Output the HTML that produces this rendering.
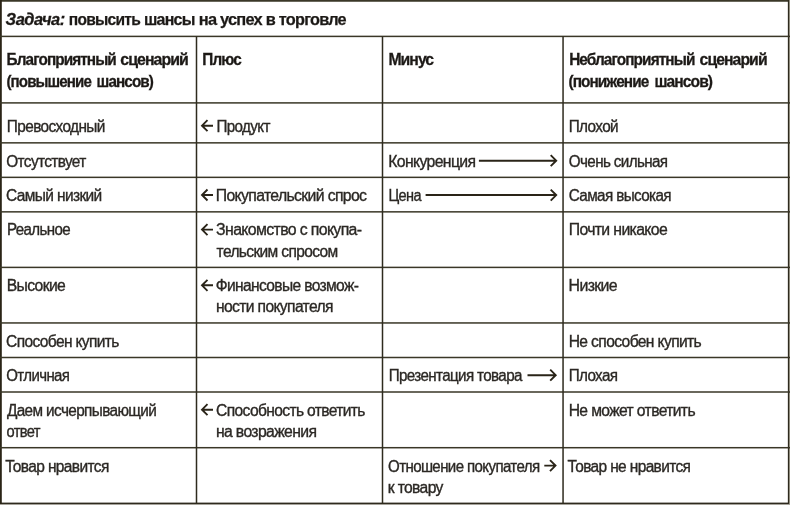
<!DOCTYPE html>
<html lang="ru"><head><meta charset="utf-8"><title>Задача: повысить шансы на успех в торговле</title>
<style>
html,body{margin:0;padding:0;background:#fff;}
body{width:790px;height:505px;position:relative;overflow:hidden;font-family:"Liberation Sans",sans-serif;color:#1c1916;}
.ln{position:absolute;background:#3a3727;}
.tx{position:absolute;white-space:nowrap;font-size:16px;line-height:19px;height:19px;transform-origin:0 0;letter-spacing:-0.65px;color:#2b2824;-webkit-text-stroke:0.35px #2b2824;}
.h{color:#1c1916;letter-spacing:-1.0px;font-weight:bold;font-size:16.8px;-webkit-text-stroke:0.3px #1c1916;}
.t{color:#1c1916;letter-spacing:-0.8px;font-weight:bold;font-size:16.8px;-webkit-text-stroke:0.25px #1c1916;}
.ti{color:#1c1916;letter-spacing:-0.5px;font-weight:bold;font-style:italic;font-size:16.8px;-webkit-text-stroke:0.3px #1c1916;}
svg{position:absolute;left:0;top:0;}
</style></head><body>

<svg width="790" height="505" viewBox="0 0 790 505" fill="#3a3727" stroke="none">
<rect x="0" y="0" width="790" height="1.75"/>
<rect x="0" y="502.6" width="790" height="1.40" fill="#2e2a1e"/>
<rect x="0" y="0" width="1.80" height="505" fill="#2a2416"/>
<rect x="787.85" y="0" width="1.15" height="505" fill="#2e2a1e"/>
<rect x="789" y="0" width="1" height="505" fill="#8f8b7c"/>
<rect x="0" y="504" width="790" height="1" fill="#a5a29a"/>
<rect x="0" y="35.65" width="790" height="1.5"/>
<rect x="0" y="102.15" width="790" height="1.5"/>
<rect x="0" y="142.10" width="790" height="1.5"/>
<rect x="0" y="176.60" width="790" height="1.5"/>
<rect x="0" y="211.10" width="790" height="1.5"/>
<rect x="0" y="266.65" width="790" height="1.5"/>
<rect x="0" y="322.20" width="790" height="1.5"/>
<rect x="0" y="356.75" width="790" height="1.5"/>
<rect x="0" y="391.25" width="790" height="1.5"/>
<rect x="0" y="446.95" width="790" height="1.5"/>
<rect x="195.75" y="36.40" width="1.5" height="467.60" fill="#2e2b1e"/>
<rect x="381.75" y="36.40" width="1.5" height="467.60" fill="#2e2b1e"/>
<rect x="562.30" y="36.40" width="1.5" height="467.60" fill="#2e2b1e"/>
</svg>
<div class="tx ti" id="t0" style="left:5px;top:10.00px;transform:translateX(0.55px) scaleX(0.9799)">Задача:</div>
<div class="tx t" id="t1" style="left:68px;top:10.00px;transform:translateX(0.75px) scaleX(0.9276)">повысить</div>
<div class="tx t" id="t2" style="left:143px;top:10.00px;transform:translateX(0.93px) scaleX(0.9550)">шансы</div>
<div class="tx t" id="t3" style="left:198px;top:10.00px;transform:translateX(0.76px) scaleX(0.9788)">на успех</div>
<div class="tx t" id="t4" style="left:265px;top:10.00px;transform:translateX(0.85px) scaleX(0.9712)">в торговле</div>
<div class="tx h" id="t5" style="left:6px;top:50.00px;transform:translateX(0.61px) scaleX(0.9139)">Благоприятный</div>
<div class="tx h" id="t6" style="left:120px;top:50.00px;transform:translateX(0.25px) scaleX(0.9478)">сценарий</div>
<div class="tx h" id="t7" style="left:6px;top:72.00px;transform:translateX(0.47px) scaleX(0.9018)">(повышение</div>
<div class="tx h" id="t8" style="left:96px;top:72.00px;transform:translateX(0.61px) scaleX(0.9104)">шансов)</div>
<div class="tx h" id="t9" style="left:202px;top:50.00px;transform:translateX(0.32px) scaleX(0.9122)">Плюс</div>
<div class="tx h" id="t10" style="left:388px;top:50.00px;transform:translateX(0.38px) scaleX(0.9397)">Минус</div>
<div class="tx h" id="t11" style="left:569px;top:50.00px;transform:translateX(0.16px) scaleX(0.9165)">Неблагоприятный</div>
<div class="tx h" id="t12" style="left:699px;top:50.00px;transform:translateX(0.59px) scaleX(0.9399)">сценарий</div>
<div class="tx h" id="t13" style="left:568px;top:72.00px;transform:translateX(0.46px) scaleX(0.9152)">(понижение</div>
<div class="tx h" id="t14" style="left:654px;top:72.00px;transform:translateX(0.50px) scaleX(0.9305)">шансов)</div>
<div class="tx r" id="t15" style="left:6px;top:117.00px;transform:translateX(0.85px) scaleX(0.9621)">Превосходный</div>
<div class="tx r" id="t16" style="left:6px;top:152.00px;transform:translateX(0.25px) scaleX(0.9613)">Отсутствует</div>
<div class="tx r" id="t17" style="left:6px;top:186.00px;transform:translateX(0.02px) scaleX(0.9685)">Самый низкий</div>
<div class="tx r" id="t18" style="left:6px;top:220.00px;transform:translateX(0.88px) scaleX(0.9429)">Реальное</div>
<div class="tx r" id="t19" style="left:6px;top:276.00px;transform:translateX(0.71px) scaleX(0.9825)">Высокие</div>
<div class="tx r" id="t20" style="left:6px;top:332.00px;transform:translateX(0.10px) scaleX(0.9708)">Способен купить</div>
<div class="tx r" id="t21" style="left:6px;top:366.00px;transform:translateX(0.29px) scaleX(0.9376)">Отличная</div>
<div class="tx r" id="t22" style="left:6px;top:401.00px;transform:translateX(0.92px) scaleX(0.9589)">Даем исчерпывающий</div>
<div class="tx r" id="t23" style="left:5px;top:457.00px;transform:translateX(0.21px) scaleX(0.9692)">Товар нравится</div>
<div class="tx r" id="t24" style="left:6px;top:422.00px;transform:translateX(0.42px) scaleX(0.9159)">ответ</div>
<div class="tx r" id="t25" style="left:568px;top:117.00px;transform:translateX(0.72px) scaleX(0.9567)">Плохой</div>
<div class="tx r" id="t26" style="left:568px;top:152.00px;transform:translateX(0.82px) scaleX(0.9497)">Очень сильная</div>
<div class="tx r" id="t27" style="left:568px;top:186.00px;transform:translateX(0.75px) scaleX(0.9541)">Самая высокая</div>
<div class="tx r" id="t28" style="left:568px;top:220.00px;transform:translateX(0.67px) scaleX(0.9876)">Почти никакое</div>
<div class="tx r" id="t29" style="left:568px;top:276.00px;transform:translateX(0.61px) scaleX(0.9932)">Низкие</div>
<div class="tx r" id="t30" style="left:568px;top:332.00px;transform:translateX(0.67px) scaleX(0.9778)">Не способен купить</div>
<div class="tx r" id="t31" style="left:568px;top:366.00px;transform:translateX(0.67px) scaleX(0.9517)">Плохая</div>
<div class="tx r" id="t32" style="left:568px;top:401.00px;transform:translateX(0.67px) scaleX(0.9796)">Не может ответить</div>
<div class="tx r" id="t33" style="left:567px;top:457.00px;transform:translateX(0.62px) scaleX(0.9662)">Товар не нравится</div>
<div class="tx r" id="t34" style="left:216px;top:117.00px;transform:translateX(0.42px) scaleX(0.9496)">Продукт</div>
<div class="tx r" id="t35" style="left:215px;top:186.00px;transform:translateX(0.75px) scaleX(0.9858)">Покупательский спрос</div>
<div class="tx r" id="t36" style="left:216px;top:220.00px;transform:translateX(0.10px) scaleX(0.9916)">Знакомство с покупа-</div>
<div class="tx r" id="t37" style="left:216px;top:242.00px;transform:translateX(0.58px) scaleX(0.9706)">тельским спросом</div>
<div class="tx r" id="t38" style="left:215px;top:276.00px;transform:translateX(0.74px) scaleX(0.9729)">Финансовые возмож-</div>
<div class="tx r" id="t39" style="left:215px;top:297.00px;transform:translateX(0.96px) scaleX(0.9780)">ности покупателя</div>
<div class="tx r" id="t40" style="left:216px;top:401.00px;transform:translateX(0.09px) scaleX(0.9742)">Способность ответить</div>
<div class="tx r" id="t41" style="left:215px;top:422.00px;transform:translateX(0.92px) scaleX(0.9854)">на возражения</div>
<div class="tx r" id="t42" style="left:388px;top:152.00px;transform:translateX(0.32px) scaleX(0.9855)">Конкуренция</div>
<div class="tx r" id="t43" style="left:388px;top:186.00px;transform:translateX(0.43px) scaleX(0.9076)">Цена</div>
<div class="tx r" id="t44" style="left:388px;top:366.00px;transform:translateX(0.67px) scaleX(0.9478)">Презентация товара</div>
<div class="tx r" id="t45" style="left:388px;top:457.00px;transform:translateX(0.02px) scaleX(0.9418)">Отношение покупателя</div>
<div class="tx r" id="t46" style="left:387px;top:478.00px;transform:translateX(0.75px) scaleX(0.9777)">к товару</div>
<svg width="790" height="505" viewBox="0 0 790 505" fill="none" stroke="#2a2418" stroke-width="1.9" stroke-linecap="butt" stroke-linejoin="miter">
<path d="M213.0 125.7H202.0M207.5 120.2L202.0 125.7L207.5 131.2"/>
<path d="M213.0 195.0H202.0M207.5 189.5L202.0 195.0L207.5 200.5"/>
<path d="M213.0 229.6H202.0M207.5 224.1L202.0 229.6L207.5 235.1"/>
<path d="M213.0 285.3H202.0M207.5 279.8L202.0 285.3L207.5 290.8"/>
<path d="M213.0 409.7H202.0M207.5 404.2L202.0 409.7L207.5 415.2"/>
<path d="M478.9 160.7H556.2M550.7 155.2L556.2 160.7L550.7 166.2"/>
<path d="M425.6 195.05H556.2M550.7 189.55L556.2 195.05L550.7 200.55"/>
<path d="M527.5 375.2H555.7M550.2 369.7L555.7 375.2L550.2 380.7"/>
<path d="M544.3 465.6H555.5M550.0 460.1L555.5 465.6L550.0 471.1"/>
</svg>
</body></html>
